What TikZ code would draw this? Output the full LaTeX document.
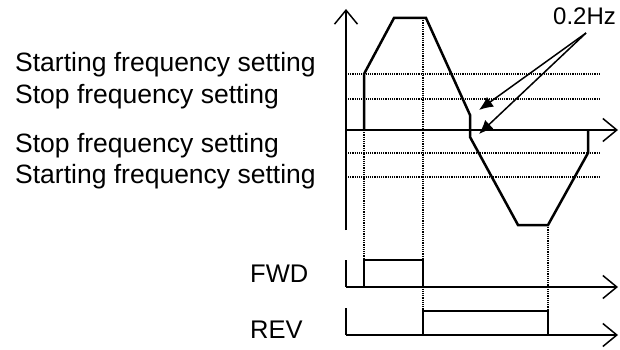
\documentclass[tikz,border=0pt]{standalone}
\usepackage{fontspec}
\setmainfont{Liberation Sans}
\usetikzlibrary{arrows.meta}

\begin{document}
\begin{tikzpicture}[
  x=1pt,y=-1pt,
  axis/.style   ={line width=1.5pt,-{Straight Barb[length=14pt,width=23pt]}},
  curve/.style  ={line width=2.5pt},
  pulse/.style  ={line width=1.5pt},
  guide/.style  ={line width=1.2pt,dash pattern=on 1.2pt off 1pt},
  lbl/.style    ={anchor=base west,inner sep=0pt,font=\fontsize{26.5}{31}\selectfont},
  sig/.style    ={lbl,font=\fontsize{25.5}{30}\selectfont},
  pointer/.style={line width=1.5pt,-{Latex[length=14pt,width=12pt]}}]
\useasboundingbox (0,0) rectangle (620,350);
% --- level labels on the left ---
\node[lbl] (sfup) at (15,72)  {Starting frequency setting};
\node[lbl] (spup) at (15,103) {Stop frequency setting};
\node[lbl] (spdn) at (15,152) {Stop frequency setting};
\node[lbl] (sfdn) at (15,183) {Starting frequency setting};
% --- guide lines (levels and instants) ---
\foreach \gy in {74,99,153,177}
  \draw[guide] (348,\gy) -- (599,\gy);
\draw[guide] (364,130) -- (364,260);
\draw[guide] (423,18) -- (423,311);
\draw[guide] (548,225) -- (548,311);
% --- frequency axes ---
\draw[axis] (346,230) -- (346,9);
\draw[axis] (346,130) -- (618,130);
% --- output frequency ---
\draw[curve] (364,130) -- (364,74) -- (394,18) -- (426,18) -- (470,115)
  -- (470,137) -- (518,225) -- (548,225) -- (588,153) -- (588,130);
% --- 0.2Hz pointers ---
\node[lbl,font=\fontsize{24}{29}\selectfont] (hz) at (553,25) {0.2Hz};
\coordinate (hzfoot) at (586,33);
\coordinate (tipup) at (479,110);
\coordinate (tipdn) at (479,134);
\draw[pointer] (hzfoot) -- (tipup);
\draw[pointer] (hzfoot) -- (tipdn);
% --- run commands ---
\node[sig] (fwd) at (250,282) {FWD};
\node[sig] (rev) at (250,338) {REV};
\foreach \by in {287,335}
  \draw[axis] (346,\by) -- (618,\by);
\draw[pulse] (346,260) -- (346,287);
\draw[pulse] (364,287) -- (364,260) -- (423,260) -- (423,287);
\draw[pulse] (346,308) -- (346,335);
\draw[pulse] (423,335) -- (423,311) -- (548,311) -- (548,335);
\end{tikzpicture}
\end{document}
